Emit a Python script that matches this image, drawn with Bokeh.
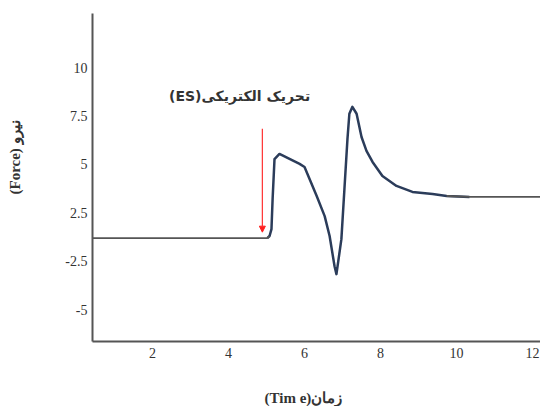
from bokeh.plotting import figure
from bokeh.models import Range1d, FixedTicker, Arrow, NormalHead, Label, Title
from bokeh.embed import file_html
from bokeh.resources import INLINE

# data (force in display units of the chart's y scale)
time = [0.42, 5.02, 5.08, 5.13, 5.16, 5.21, 5.34, 5.87, 6.0, 6.32, 6.53, 6.66, 6.79,
        6.84, 6.97, 7.05, 7.13, 7.18, 7.26, 7.37, 7.5, 7.63, 7.79, 8.05, 8.42,
        8.84, 9.37, 9.74, 10.34, 12.21]
force = [1.19, 1.19, 1.3, 1.66, 3.21, 5.28, 5.54, 5.03, 4.87, 3.37, 2.33, 1.3, -0.26,
         -0.67, 1.14, 3.73, 6.32, 7.62, 7.98, 7.62, 6.42, 5.7, 5.13, 4.4, 3.89,
         3.58, 3.47, 3.37, 3.32, 3.32]

x_ticks = [2, 4, 6, 8, 10, 12]
y_tick_pos = [10, 7.5, 5, 2.5, 0, -2.5]
y_tick_labels = ["10", "7.5", "5", "2.5", "-2.5", "-5"]

stim_time = 4.89
stim_top = 6.84
stim_bottom = 1.5

p = figure(width=540, height=406, output_backend="svg", toolbar_location=None,
           x_range=Range1d(0.42, 12.21), y_range=Range1d(-4.15, 12.8),
           min_border_left=92, min_border_top=13, min_border_right=0, min_border_bottom=64)
p.outline_line_color = None
p.grid.visible = False
p.background_fill_color = "white"

# response (navy) and resting/plateau segments (gray)
p.line(time[1:-1], force[1:-1], line_color="#2b3c5a", line_width=2.5, line_join="round")
p.line(time[:3], force[:3], line_color="#555555", line_width=1.8)
p.line(time[-3:], force[-3:], line_color="#555555", line_width=1.8)

p.add_layout(Arrow(end=NormalHead(size=6, fill_color="#ff2020", line_color="#ff2020"),
                   x_start=stim_time, y_start=stim_top, x_end=stim_time, y_end=stim_bottom,
                   line_color="#ff3030", line_width=1.2))

p.add_layout(Label(x=4.29, y=8.55, text="(ES)تحریک الکتریکی", text_align="center",
                   text_baseline="middle", text_font="DejaVu Sans", text_font_size="14px",
                   text_font_style="bold", text_color="#333333"))

xa = p.xaxis[0]
xa.ticker = FixedTicker(ticks=x_ticks)
xa.major_tick_out = 0
xa.major_tick_in = 0
xa.minor_tick_out = 0
xa.minor_tick_in = 0
xa.axis_line_color = "#555555"
xa.axis_line_width = 2
xa.major_label_text_font = "Liberation Serif"
xa.major_label_text_font_size = "14px"
xa.major_label_text_color = "#333333"
xa.major_label_standoff = 6

ya = p.yaxis[0]
ya.ticker = FixedTicker(ticks=y_tick_pos)
ya.major_label_overrides = {v: l for v, l in zip(y_tick_pos, y_tick_labels)}
ya.major_tick_out = 0
ya.major_tick_in = 0
ya.minor_tick_out = 0
ya.minor_tick_in = 0
ya.axis_line_color = "#555555"
ya.axis_line_width = 2
ya.major_label_text_font = "Liberation Serif"
ya.major_label_text_font_size = "14px"
ya.major_label_text_color = "#333333"
ya.major_label_standoff = 5

# spacers, then axis titles offset along the axes as in the reference
p.add_layout(Title(text=" ", text_font_size="1px", standoff=36), "left")
p.add_layout(Title(text="(Force) نیرو", align="left", offset=147, standoff=2,
                   text_font="Liberation Serif", text_font_size="15px",
                   text_font_style="bold", text_color="#333333"), "left")
p.add_layout(Title(text=" ", text_font_size="1px", standoff=23), "below")
p.add_layout(Title(text="(Tim e)زمان", align="left", offset=172, standoff=2,
                   text_font="Liberation Serif", text_font_size="15px",
                   text_font_style="bold", text_color="#333333"), "below")

open("out.html", "w").write(file_html(p, INLINE))
